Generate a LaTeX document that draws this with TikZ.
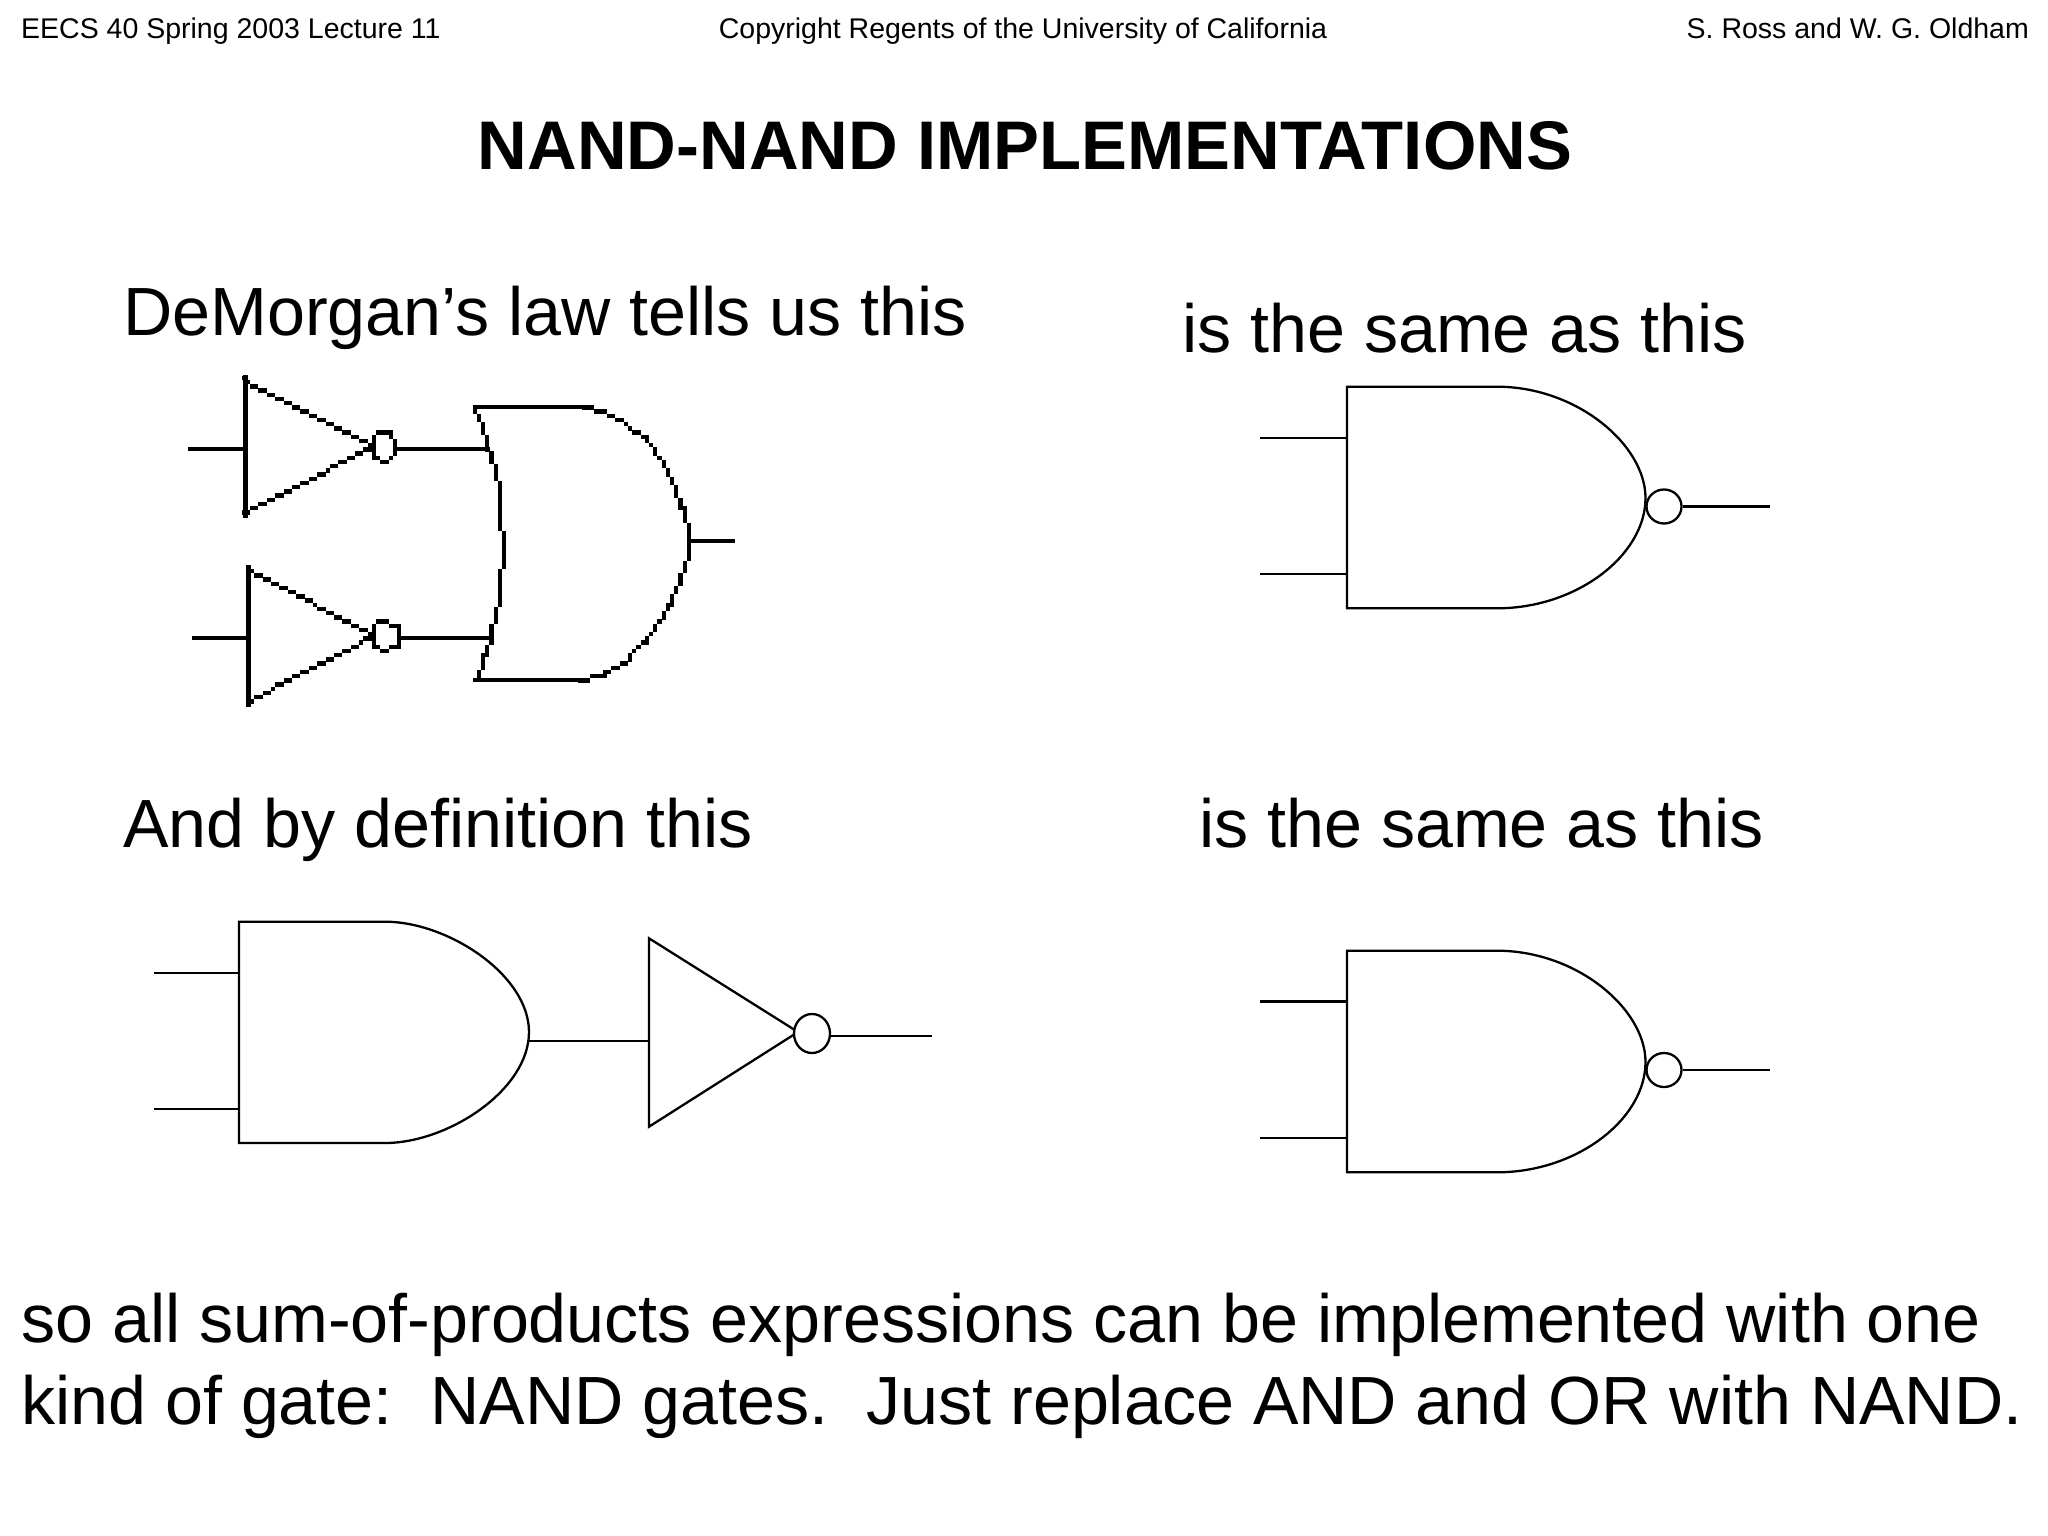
\documentclass[tikz,border=0pt]{standalone}
\usepackage{fontspec}
\setmainfont{Liberation Sans}
\newcommand\fs[1]{\fontsize{#1}{#1}\selectfont}
\newcommand\pixseg[4]{%
  \pgfmathtruncatemacro\nn{max(1,ceil(max(abs(#3-#1),abs(#4-#2))/4.2))}%
  \foreach \ii in {0,...,\nn}{%
    \pgfmathsetmacro\px{round((#1+(#3-#1)*\ii/\nn)/4.2)*4.2}%
    \pgfmathsetmacro\py{round((#2+(#4-#2)*\ii/\nn)/4.2)*4.2}%
    \fill (\px-2.1,\py-2.15) rectangle (\px+2.1,\py+2.15);
  }%
}
\newcommand\pixpoly[3]{%
  \foreach \xa/\ya [remember=\xa as \xb (initially #1), remember=\ya as \yb (initially #2)] in {#3}{%
    \pixseg{\xb}{\yb}{\xa}{\ya}%
  }%
}
\tikzset{
  hdr/.style={anchor=base,inner sep=0pt,font=\fs{28.5}},
  body/.style={anchor=base west,inner sep=0pt,font=\fs{68.2}},
  ttl/.style={anchor=base,inner sep=0pt,font=\fs{68.8}\bfseries},
  wire/.style={line width=2.3pt,black},
  gate/.style={line width=2.3pt,black,line join=miter},
  bwire/.style={line width=4.3pt,black},
  bubble/.style={draw,line width=2.3pt,ellipse,inner sep=0pt,fill=white}
}
\usetikzlibrary{shapes.geometric}
\begin{document}
\begin{tikzpicture}[x=1pt,y=-1pt]
\useasboundingbox (0,0) rectangle (2048,1536);
\fill[white] (0,0) rectangle (2048,1536);
% texts
\node[hdr,anchor=base west] (h1) at (21,39) {EECS 40 Spring 2003 Lecture 11};
\node[hdr] (h2) at (1023,39) {Copyright Regents of the University of California};
\node[hdr,anchor=base east] (h3) at (2029,39) {S. Ross and W. G. Oldham};
\node[ttl] (title) at (1025,169) {NAND-NAND IMPLEMENTATIONS};
\node[body] (t1) at (123,335) {DeMorgan’s law tells us this};
\node[body] (t2) at (1182,352) {is the same as this};
\node[body] (t3) at (123,847.5) {And by definition this};
\node[body] (t4) at (1199,847.5) {is the same as this};
\node[body] (t5) at (21,1342) {so all sum-of-products expressions can be implemented with one};
\node[body] (t6) at (21,1424) {kind of gate:\ \ NAND gates.\ \ Just replace AND and OR with NAND.};
% pixel DeMorgan circuit
\coordinate (ia1) at (188,448.7); \coordinate (ib1) at (245.4,448.7);
\coordinate (ia2) at (192,637.7); \coordinate (ib2) at (248.6,637.7);
\coordinate (bo1) at (396,448.7); \coordinate (bo2) at (400,637.7);
\coordinate (oi1) at (490,448.7); \coordinate (oi2) at (490,637.7);
\coordinate (oo) at (690,541); \coordinate (oe) at (734.6,541);
\draw[bwire] (ia1) -- (ib1);
\draw[bwire] (ia2) -- (ib2);
\draw[bwire] (245.4,375) -- (245.4,517.7);
\draw[bwire] (248.6,565) -- (248.6,706.7);
\pixpoly{245.4}{380}{372/447,245.4/513}
\pixpoly{248.6}{569}{372/636,248.6/702}
\pixpoly{378}{431}{{388/431},{395/442},{396/448},{392.5/457},{384/462},{375/457},{373.5/448},{374.5/438},{378/431}}
\pixpoly{385}{620.7}{{398/626.7},{400/636.7},{398/645},{385/651.7},{374.5/645},{372.5/635},{374.5/625},{385/620.7}}
\draw[bwire] (bo1) -- (oi1);
\draw[bwire] (bo2) -- (oi2);
\draw[bwire] (473,406.7) -- (585,406.7);
\draw[bwire] (473,680) -- (583,680);
\pixpoly{473}{406.7}{{479/418},{489/448.7},{498.7/483},{500.7/526.7},{504/543},{502.7/563},{498.7/600},{490.7/637.7},{479/676.7}}
\pixpoly{585.1}{406.7}{{601/411.7},{617/418.3},{628.9/428.3},{644.8/438.3},{654.7/450},{664.6/466.7},{674.6/486.7},{682.5/510},{688.5/530},{690.5/541},{686.5/563.3},{678.5/583.3},{668.6/606.7},{654.7/630},{638.8/648.3},{620.9/665},{603/675},{581/680}}
\draw[bwire] (oo) -- (oe);
% top right NAND
\coordinate (a1) at (1260,438); \coordinate (a1g) at (1347,438);
\coordinate (a2) at (1260,574.3); \coordinate (a2g) at (1347,574.3);
\node[bubble,minimum width=35pt,minimum height=34pt] (b1) at (1664,506.5) {};
\coordinate (a3) at (1770,506.5);
\draw[gate] (1347,386.7) -- (1497,386.7) .. controls (1577,386.7) and (1645.5,445) .. (1645.5,498) .. controls (1645.5,555) and (1577,608.3) .. (1497,608.3) -- (1347,608.3) -- cycle;
\draw[wire] (a1) -- (a1g);
\draw[wire] (a2) -- (a2g);
\draw[wire] (b1.east) -- (a3);
% lower right NAND
\coordinate (c1) at (1260,1001.5); \coordinate (c1g) at (1347,1001.5);
\coordinate (c2) at (1260,1138.3); \coordinate (c2g) at (1347,1138.3);
\node[bubble,minimum width=35pt,minimum height=34pt] (b2) at (1664,1070) {};
\coordinate (c3) at (1770,1070);
\draw[gate] (1347,950.7) -- (1497,950.7) .. controls (1577,950.7) and (1645.5,1009) .. (1645.5,1062) .. controls (1645.5,1119) and (1577,1172.3) .. (1497,1172.3) -- (1347,1172.3) -- cycle;
\draw[wire] (c1) -- (c1g);
\draw[wire] (c2) -- (c2g);
\draw[wire] (b2.east) -- (c3);
% bottom left AND + inverter
\coordinate (d1) at (154,972.7); \coordinate (d1g) at (239,972.7);
\coordinate (d2) at (154,1109.3); \coordinate (d2g) at (239,1109.3);
\coordinate (dout) at (529,1041); \coordinate (invin) at (649,1041);
\draw[gate] (239,921.7) -- (385,921.7) .. controls (448,921.7) and (529,975) .. (529,1032) .. controls (529,1090) and (448,1143) .. (385,1143) -- (239,1143) -- cycle;
\draw[wire] (d1) -- (d1g);
\draw[wire] (d2) -- (d2g);
\draw[wire] (dout) -- (invin);
\draw[gate] (649,938.3) -- (798,1032) -- (649,1126.7) -- cycle;
\node[bubble,minimum width=36pt,minimum height=39pt] (b3) at (812,1033.5) {};
\coordinate (d3) at (932,1036);
\draw[wire] (b3.east |- d3) -- (d3);
\end{tikzpicture}
\end{document}
